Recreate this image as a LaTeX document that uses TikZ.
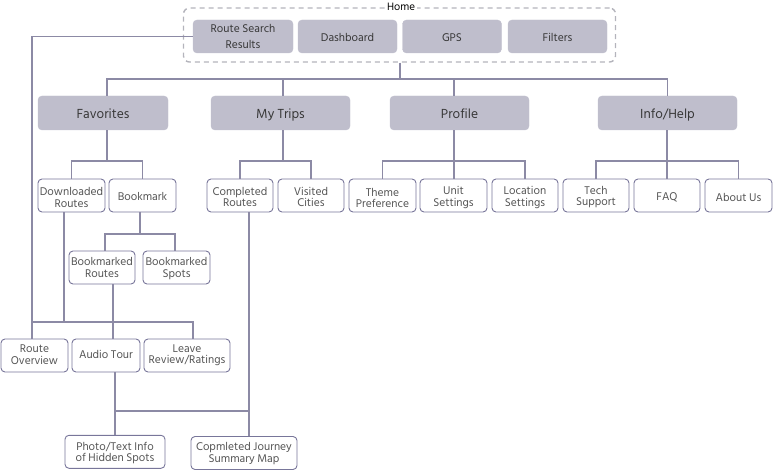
\documentclass[tikz,border=0pt]{standalone}
\usepackage{fontspec}
\setmainfont{Hind Siliguri}
\definecolor{boxfill}{HTML}{BFBECC}
\definecolor{boxline}{HTML}{78769A}
\definecolor{wire}{HTML}{8C8AA5}
\definecolor{dashgrey}{HTML}{B4B4BC}
\definecolor{txt}{HTML}{555555}
\begin{document}
\begin{tikzpicture}[x=1pt,y=-1pt,
  % bh = twice the drop of the last baseline below the box centre
  bh/.style={text height=#1,text depth=0pt},
  solidbox/.style={fill=boxfill,draw=boxfill,rounded corners=4pt,align=center,
    inner sep=1pt,text=black!78,font=\fontsize{11.5}{16}\selectfont,
    minimum height=33pt},
  sectionbox/.style={solidbox,font=\fontsize{13.5}{15}\selectfont,minimum height=34pt,bh=12pt},
  linebox/.style={fill=white,draw=boxline,line width=0.9pt,rounded corners=4pt,align=center,
    inner sep=1pt,text=txt,font=\fontsize{11.5}{11.5}\selectfont,
    minimum height=33pt},
  conn/.style={draw=wire,line width=1.2pt},
  homebox/.style={draw=dashgrey,line width=1.4pt,dash pattern=on 5pt off 4pt,rounded corners=6pt}]
\useasboundingbox (0,0) rectangle (773,470);

% Home group
\node[homebox,minimum width=432pt,minimum height=54pt] (home) at (399.5,35) {};
\node[fill=white,inner sep=2pt,font=\fontsize{11}{11}\selectfont] (homelbl) at (401,7) {Home};
\node[solidbox,minimum width=100pt,bh=25pt] (rsr) at (243,36.5) {Route Search\\Results};
\node[solidbox,minimum width=99pt,bh=10.5pt] (dash) at (347.5,36.5) {Dashboard};
\node[solidbox,minimum width=99pt,bh=10.5pt] (gps) at (452,36.5) {GPS};
\node[solidbox,minimum width=99pt,bh=10.5pt] (filt) at (557.5,36.5) {Filters};

% Main sections
\node[sectionbox,minimum width=130pt] (fav) at (103,113) {Favorites};
\node[sectionbox,minimum width=139pt] (trips) at (280.5,113) {My Trips};
\node[sectionbox,minimum width=139pt] (prof) at (459.5,113) {Profile};
\node[sectionbox,minimum width=139pt] (info) at (667.5,113) {Info/Help};

% Sub pages
\node[linebox,bh=24pt,minimum width=67pt] (dl) at (71.5,195.5) {Downloaded\\Routes};
\node[linebox,bh=10.5pt,minimum width=67pt] (bm) at (142.5,195.5) {Bookmark};
\node[linebox,bh=23pt,minimum width=66pt] (cr) at (240,195.5) {Completed\\Routes};
\node[linebox,bh=23pt,minimum width=66pt] (vc) at (311,195.5) {Visited\\Cities};
\node[linebox,bh=25pt,minimum width=67pt] (tp) at (382.5,195.5) {Theme\\Preference};
\node[linebox,bh=22pt,minimum width=67pt] (us) at (453.5,195.5) {Unit\\Settings};
\node[linebox,bh=22pt,minimum width=66pt] (ls) at (525,195.5) {Location\\Settings};
\node[linebox,bh=21pt,minimum width=66pt] (ts) at (596,195.5) {Tech\\Support};
\node[linebox,bh=10.5pt,minimum width=66pt] (faq) at (667,195.5) {FAQ};
\node[linebox,bh=11.5pt,minimum width=67pt] (au) at (738.5,195.5) {About Us};

\node[linebox,bh=19pt,minimum width=66pt] (br) at (102,267.5) {Bookmarked\\Routes};
\node[linebox,bh=19pt,minimum width=67pt] (bs) at (176.5,267.5) {Bookmarked\\Spots};

\node[linebox,bh=17.5pt,minimum width=67pt] (ro) at (34.5,355.5) {Route\\Overview};
\node[linebox,bh=5pt,minimum width=68pt] (at) at (106,355.5) {Audio Tour};
\node[linebox,bh=16pt,minimum width=86pt] (lr) at (187,355.5) {Leave\\Review/Ratings};

\node[linebox,bh=19.5pt,minimum width=100pt] (ph) at (115,451.8) {Photo/Text Info\\of Hidden Spots};
\node[linebox,bh=18.5pt,minimum width=106pt] (cj) at (244,453) {Copmleted Journey\\Summary Map};

% Junction points of the connector buses
\coordinate (b1) at (400,79);
\coordinate (b2) at (0,161);
\coordinate (b3) at (0,234);
\coordinate (j1) at (32,322);
\coordinate (j2) at (193,322);
\coordinate (j3) at (64,322);
\coordinate (j4) at (113,322);
\coordinate (j5) at (115,411);
\coordinate (j6) at (249,411);
\coordinate (xF) at (107,0);
\coordinate (xT) at (283,0);
\coordinate (xP) at (454,0);
\coordinate (xB) at (140,0);

% Home to main sections
\draw[conn] (b1 |- home.south) -- (b1);
\draw[conn] (xF |- fav.north) |- (info.north |- b1) -- (info.north);
\draw[conn] (xT |- trips.north) -- (xT |- b1);
\draw[conn] (xP |- prof.north) -- (xP |- b1);

% Main sections to sub pages
\draw[conn] (xF |- fav.south) -- (xF |- b2);
\draw[conn] (dl.north) |- (bm.north |- b2) -- (bm.north);
\draw[conn] (xT |- trips.south) -- (xT |- b2);
\draw[conn] (cr.north) |- (vc.north |- b2) -- (vc.north);
\draw[conn] (xP |- prof.south) -- (xP |- us.north);
\draw[conn] (tp.north) |- (ls.north |- b2) -- (ls.north);
\draw[conn] (info.south -| faq.north) -- (faq.north);
\draw[conn] (ts.north) |- (au.north |- b2) -- (au.north);

% Bookmark branch
\draw[conn] (xB |- bm.south) -- (xB |- b3);
\draw[conn] ([xshift=3pt]br.north) |- ([xshift=-1.5pt]bs.north |- b3) -- ([xshift=-1.5pt]bs.north);

% Route pages
\draw[conn] (rsr.west) -| (j1) -- (j1 |- ro.north);
\draw[conn] (j1) -- (j2) -- (j2 |- lr.north);
\draw[conn] (j3 |- dl.south) -- (j3);
\draw[conn] (j4 |- br.south) -- (j4 |- at.north);

% Journey pages
\draw[conn] (j5 |- at.south) -- (j5 |- ph.north);
\draw[conn] (j5) -- (j6);
\draw[conn] (j6 |- cr.south) -- (j6 |- cj.north);
\end{tikzpicture}
\end{document}
